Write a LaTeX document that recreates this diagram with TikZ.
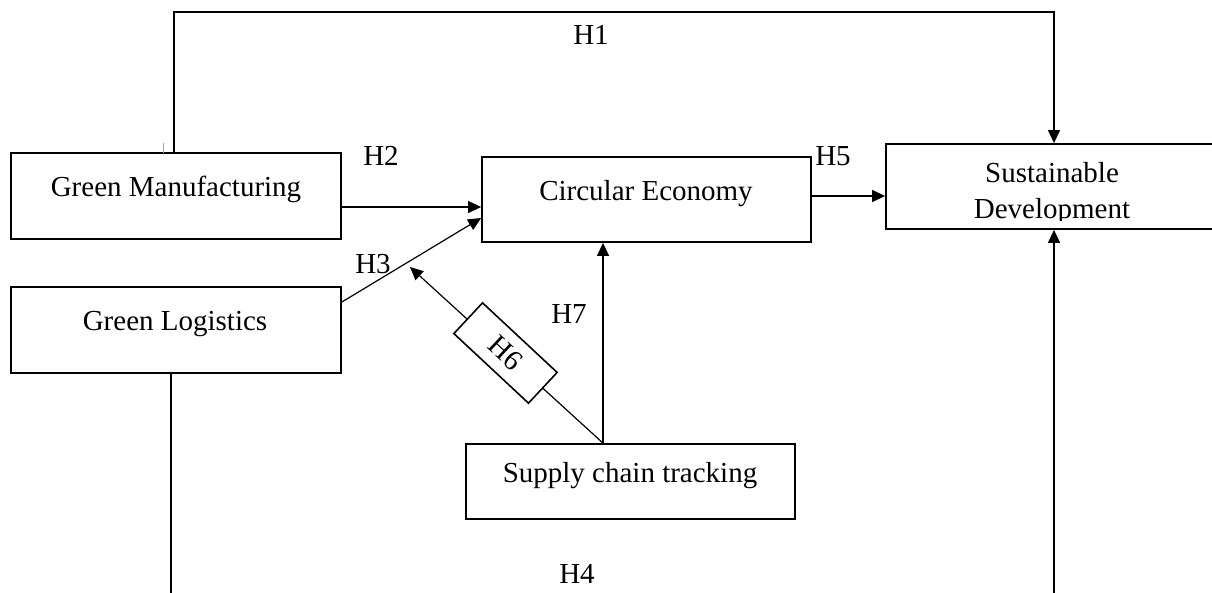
\documentclass[tikz,border=0pt]{standalone}
\usepackage{fontspec}
\setmainfont{Liberation Serif}
\usetikzlibrary{arrows.meta,calc}
\begin{document}
\begin{tikzpicture}[x=1pt,y=1pt,
  box/.style={draw=black,line width=1.8pt,fill=none,inner sep=0pt,rectangle},
  lbl/.style={font=\fontsize{29}{34}\selectfont,inner sep=0pt,anchor=base},
  conn/.style={line width=1.2pt,draw=black},
  arr/.style={conn,-{Triangle[length=13pt,width=12pt]}},
  tickc/.style={draw={rgb,255:red,126;green,166;blue,224},line width=1pt}]
\useasboundingbox (0,0) rectangle (1212,-592);
\fill[white] (0,0) rectangle (1212,-592);
% boxes
\node[box,minimum width=330pt,minimum height=86pt] (gm) at (176,-196) {};
\node[box,minimum width=330pt,minimum height=86pt] (gl) at (176,-330) {};
\node[box,minimum width=329pt,minimum height=85pt] (ce) at (646.5,-199.5) {};
\node[box,minimum width=334pt,minimum height=85pt] (sd) at (1053,-186.5) {};
\node[box,minimum width=329pt,minimum height=75pt] (sc) at (630.5,-481.5) {};
% box texts
\node[lbl] (gmt) at (176,-196) {Green Manufacturing};
\node[lbl] (glt) at (175,-330) {Green Logistics};
\node[lbl] (cet) at (646,-200) {Circular Economy};
\node[lbl] (sdt1) at (1052,-182) {Sustainable};
\begin{scope}
\clip (880,-144) rectangle (1212,-220);
\node[lbl] (sdt2) at (1052,-218) {Development};
\end{scope}
\node[lbl] (sct) at (630,-482) {Supply chain tracking};
% helper coordinates
\coordinate (h1x) at (174,0);
\coordinate (sdx) at (1054,0);
\coordinate (h4x) at (171,0);
\coordinate (bot) at (0,-600);
\coordinate (top) at (0,-12);
\coordinate (h6tip) at (410,-267);
% H1
\draw[arr] (gm.north -| h1x) -- (h1x |- top) -- (sdx |- top) -- (sd.north -| sdx);
\draw[tickc] (163,-143) -- (163,-153);
% H4
\draw[conn] (gl.south -| h4x) -- (h4x |- bot);
\draw[arr] (sdx |- bot) -- (sd.south -| sdx);
% H2
\coordinate (h2y) at (0,-207);
\draw[arr] (gm.east |- h2y) -- (ce.west |- h2y);
% H3
\draw[arr] ([yshift=28pt]gl.east) -- ([yshift=-18.5pt]ce.west);
% H5
\coordinate (h5y) at (0,-196);
\draw[arr] (ce.east |- h5y) -- (sd.west |- h5y);
% H7
\coordinate (h7x) at (603,0);
\draw[arr] (sc.north -| h7x) -- (ce.south -| h7x);
% H6
\draw[arr] (sc.north -| h7x) -- (h6tip);
\node[box,fill=white,line width=1.6pt,minimum width=102pt,minimum height=42pt,rotate=-43,font=\fontsize{29}{34}\selectfont] (h6) at (505.5,-353) {H6};
% labels
\node[lbl] (l1) at (591,-44) {H1};
\node[lbl] (l2) at (381,-165) {H2};
\node[lbl] (l3) at (373,-273) {H3};
\node[lbl] (l4) at (577,-583) {H4};
\node[lbl] (l5) at (833,-165) {H5};
\node[lbl] (l7) at (569,-323) {H7};
\end{tikzpicture}
\end{document}
